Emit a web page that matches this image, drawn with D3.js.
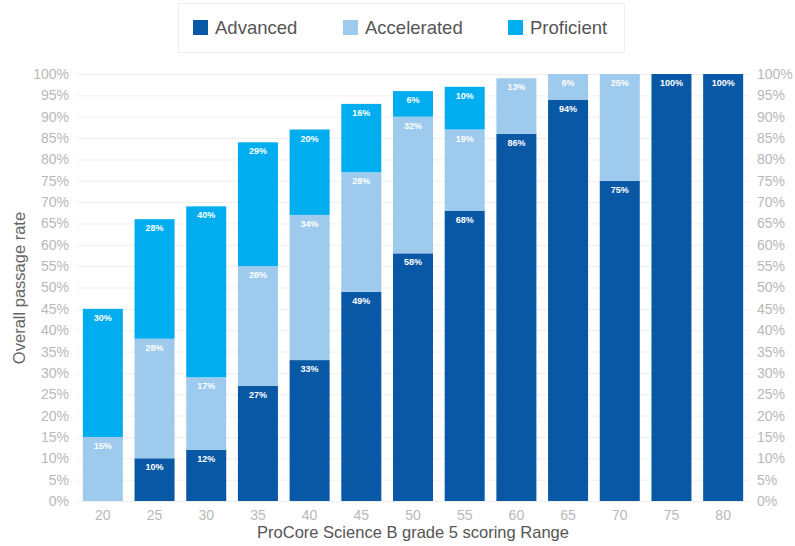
<!DOCTYPE html>
<html>
<head>
<meta charset="utf-8">
<script src="https://cdn.jsdelivr.net/npm/d3@7.9.0/dist/d3.min.js"></script>
<style>
  body { margin: 0; background: #fff; }
  svg { font-family: "Liberation Sans", Arial, sans-serif; }
</style>
</head>
<body>
<svg id="chart" width="795" height="546"></svg>
<script>
const ranges = ['20', '25', '30', '35', '40', '45', '50', '55', '60', '65', '70', '75', '80'];
const advanced = [0, 10, 12, 27, 33, 49, 58, 68, 86, 94, 75, 100, 100];
const accelerated = [15, 28, 17, 28, 34, 28, 32, 19, 13, 6, 25, 0, 0];
const proficient = [30, 28, 40, 29, 20, 16, 6, 10, 0, 0, 0, 0, 0];
const seriesNames = ['Advanced', 'Accelerated', 'Proficient'];
const yTicks = d3.range(0, 101, 5);

const colors = { Advanced: '#0858a6', Accelerated: '#9ecaed', Proficient: '#00adef' };

const svg = d3.select('#chart');
const plotLeft = 77, plotRight = 749, plotTop = 74, plotBottom = 501;

let x = d3.scaleBand().domain(ranges).range([plotLeft, plotRight]).paddingInner(0.226).paddingOuter(0.113);
let y = d3.scaleLinear().domain([0, 100]).range([plotBottom, plotTop]);

// grid
svg.append('g').selectAll('line').data(yTicks).join('line')
  .attr('x1', plotLeft).attr('x2', plotRight)
  .attr('y1', d => y(d) + 0.5).attr('y2', d => y(d) + 0.5)
  .attr('stroke', '#eeeeee');

// axes
let yLeft = svg.append('g').attr('transform', `translate(${plotLeft},0)`)
  .call(d3.axisLeft(y).tickValues(yTicks).tickFormat(d => d + '%').tickSize(0).tickPadding(8));
let yRight = svg.append('g').attr('transform', `translate(${plotRight},0)`)
  .call(d3.axisRight(y).tickValues(yTicks).tickFormat(d => d + '%').tickSize(0).tickPadding(8));
let xAxis = svg.append('g').attr('transform', `translate(0,${plotBottom})`)
  .call(d3.axisBottom(x).tickSize(0).tickPadding(9));

[yLeft, yRight, xAxis].forEach(g => {
  g.select('.domain').remove();
  g.selectAll('text').attr('fill', '#b8b8b8').style('font-size', '14px').style('font-family', '"Liberation Sans", Arial, sans-serif');
});

// stacked data
let table = ranges.map((r, i) => ({
  range: r,
  Advanced: advanced[i],
  Accelerated: accelerated[i],
  Proficient: proficient[i]
}));
let stacked = d3.stack().keys(seriesNames)(table);

let layers = svg.append('g').selectAll('g').data(stacked).join('g')
  .attr('fill', d => colors[d.key]);

layers.selectAll('rect').data(d => d).join('rect')
  .attr('x', d => x(d.data.range))
  .attr('width', x.bandwidth())
  .attr('y', d => y(d[1]))
  .attr('height', d => y(d[0]) - y(d[1]));

// labels
stacked.forEach(layer => {
  svg.append('g').selectAll('text')
    .data(layer.filter(d => d[1] - d[0] > 0))
    .join('text')
    .attr('x', d => x(d.data.range) + x.bandwidth() / 2)
    .attr('y', d => y(d[1]) + 12)
    .attr('text-anchor', 'middle')
    .attr('fill', '#fff')
    .style('font-size', '9px')
    .style('font-weight', 'bold')
    .text(d => (d[1] - d[0]) + '%');
});

// axis titles
svg.append('text')
  .attr('transform', 'translate(25,288) rotate(-90)')
  .attr('text-anchor', 'middle')
  .attr('fill', '#666')
  .style('font-size', '16.5px')
  .text('Overall passage rate');

svg.append('text')
  .attr('x', 413).attr('y', 538)
  .attr('text-anchor', 'middle')
  .attr('fill', '#555')
  .style('font-size', '16.5px')
  .text('ProCore Science B grade 5 scoring Range');

// legend
svg.append('rect')
  .attr('x', 178.5).attr('y', 3.5).attr('width', 446).attr('height', 49)
  .attr('fill', '#fff').attr('stroke', '#eeeeee');

const legendX = [193, 343, 508];
let legend = svg.append('g').selectAll('g').data(seriesNames).join('g')
  .attr('transform', (d, i) => `translate(${legendX[i]},20)`);
legend.append('rect').attr('width', 15).attr('height', 15).attr('fill', d => colors[d]);
legend.append('text')
  .attr('x', 22).attr('y', 14)
  .attr('fill', '#555')
  .style('font-size', '18.5px')
  .text(d => d);
</script>
</body>
</html>
